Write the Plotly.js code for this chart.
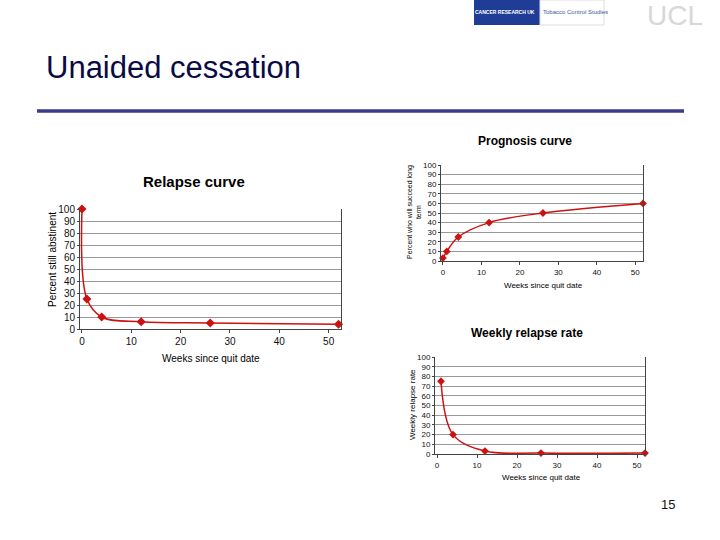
<!DOCTYPE html>
<html><head><meta charset="utf-8">
<script src="https://cdn.plot.ly/plotly-3.0.1.min.js"></script>
<style>html,body{margin:0;padding:0;background:#fff}#c{width:720px;height:540px}</style>
</head><body><div id="c"></div>
<script>
// Data
const weeksRelapse = [0, 1, 4, 12, 26, 52];
const percentAbstinent = [100, 25, 10, 6, 5, 4];
const weeksPrognosis = [0, 1, 4, 12, 26, 52];
const percentSucceed = [3, 10, 25, 40, 50, 60];
const weeksRate = [1, 4, 12, 26, 52];
const weeklyRelapseRate = [75, 20, 3, 1, 1];
const yTicks = [0, 10, 20, 30, 40, 50, 60, 70, 80, 90, 100];
const xTicks = [0, 10, 20, 30, 40, 50];

const W = 720, H = 540;
const px = v => v / W;
const py = v => 1 - v / H;
const red = '#cc1111';

function trace(x, y, xa, ya, ms) {
  return {
    x: x, y: y, xaxis: xa, yaxis: ya, type: 'scatter', mode: 'lines+markers',
    line: {color: red, width: 1.5, shape: 'spline', smoothing: 1},
    marker: {color: red, symbol: 'diamond', size: ms},
    cliponaxis: false, hoverinfo: 'skip'
  };
}

function xax(domain, range, fs) {
  return {domain: domain, range: range, tickvals: xTicks, showgrid: false, zeroline: false,
    showline: true, linecolor: '#444', linewidth: 1, ticks: 'outside', ticklen: 3, tickcolor: '#444',
    tickfont: {family: 'Arial, Liberation Sans', size: fs, color: '#111'}, fixedrange: true};
}
function yax(domain, anchor, fs) {
  return {domain: domain, range: [0, 100], tickvals: yTicks, anchor: anchor, showgrid: true,
    gridcolor: '#999999', gridwidth: 1, zeroline: false, showline: true, mirror: true,
    linecolor: '#444', linewidth: 1, ticks: 'outside', ticklen: 2, tickcolor: '#444',
    tickfont: {family: 'Arial, Liberation Sans', size: fs, color: '#111'}, fixedrange: true};
}

const data = [
  trace(weeksRelapse, percentAbstinent, 'x', 'y', 7),
  trace(weeksPrognosis, percentSucceed, 'x2', 'y2', 6),
  trace(weeksRate, weeklyRelapseRate, 'x3', 'y3', 6)
];

const fnt = (s, b, c) => ({family: 'Arial, Liberation Sans', size: s, color: c || '#000', weight: b ? 'bold' : 'normal'});
function ann(text, x, y, size, opts) {
  return Object.assign({text: text, x: px(x), y: py(y), xref: 'paper', yref: 'paper', showarrow: false,
    xanchor: 'center', yanchor: 'middle', font: fnt(size, false)}, opts || {});
}

const layout = {
  width: W, height: H, margin: {l: 0, r: 0, t: 0, b: 0}, showlegend: false,
  paper_bgcolor: '#fff', plot_bgcolor: '#fff',
  xaxis: Object.assign(xax([px(80), px(341)], [-0.4, 52.5], 10), {anchor: 'y'}),
  yaxis: yax([py(329), py(209)], 'x', 10),
  xaxis2: Object.assign(xax([px(441), px(643)], [-0.5, 52], 8), {anchor: 'y2'}),
  yaxis2: yax([py(261), py(165)], 'x2', 8),
  xaxis3: Object.assign(xax([px(435), px(645)], [-0.5, 52], 8), {anchor: 'y3'}),
  yaxis3: yax([py(454), py(357)], 'x3', 8),
  shapes: [
    {type: 'line', xref: 'paper', yref: 'paper', x0: px(37), x1: px(684), y0: py(111), y1: py(111),
     line: {color: '#3b3b8a', width: 3.5}},
    {type: 'rect', xref: 'paper', yref: 'paper', x0: px(474), x1: px(540), y0: py(0), y1: py(25),
     fillcolor: '#1f3d96', line: {width: 0}},
    {type: 'rect', xref: 'paper', yref: 'paper', x0: px(540), x1: px(604), y0: py(0), y1: py(25),
     fillcolor: '#ffffff', line: {color: '#dddddd', width: 1}}
  ],
  annotations: [
    ann('Unaided cessation', 44, 68, 31, {xanchor: 'left', font: fnt(31, false, '#0a0a45')}),
    ann('15', 668, 504, 13, {font: fnt(13, false, '#111')}),
    ann('CANCER RESEARCH UK', 505, 12, 5, {font: fnt(5, true, '#fff')}),
    ann('Tobacco Control Studies', 575, 12, 6, {font: fnt(6, false, '#3a5a9a')}),
    ann('UCL', 675, 15, 28, {font: fnt(28, false, '#d8d8d8')}),
    ann('Relapse curve', 194, 181, 15, {font: fnt(15, true)}),
    ann('Percent still abstinent', 52, 259, 10, {textangle: -90}),
    ann('Weeks since quit date', 211, 358, 10),
    ann('Prognosis curve', 525, 141, 12, {font: fnt(12, true)}),
    ann('Percent who will succeed long<br>term', 414, 212, 7, {textangle: -90}),
    ann('Weeks since quit date', 543, 285, 8),
    ann('Weekly relapse rate', 527, 333, 12, {font: fnt(12, true)}),
    ann('Weekly relapse rate', 412, 405, 8, {textangle: -90}),
    ann('Weeks since quit date', 541, 477, 8)
  ]
};

Plotly.newPlot('c', data, layout, {staticPlot: true, displayModeBar: false});
</script></body></html>
